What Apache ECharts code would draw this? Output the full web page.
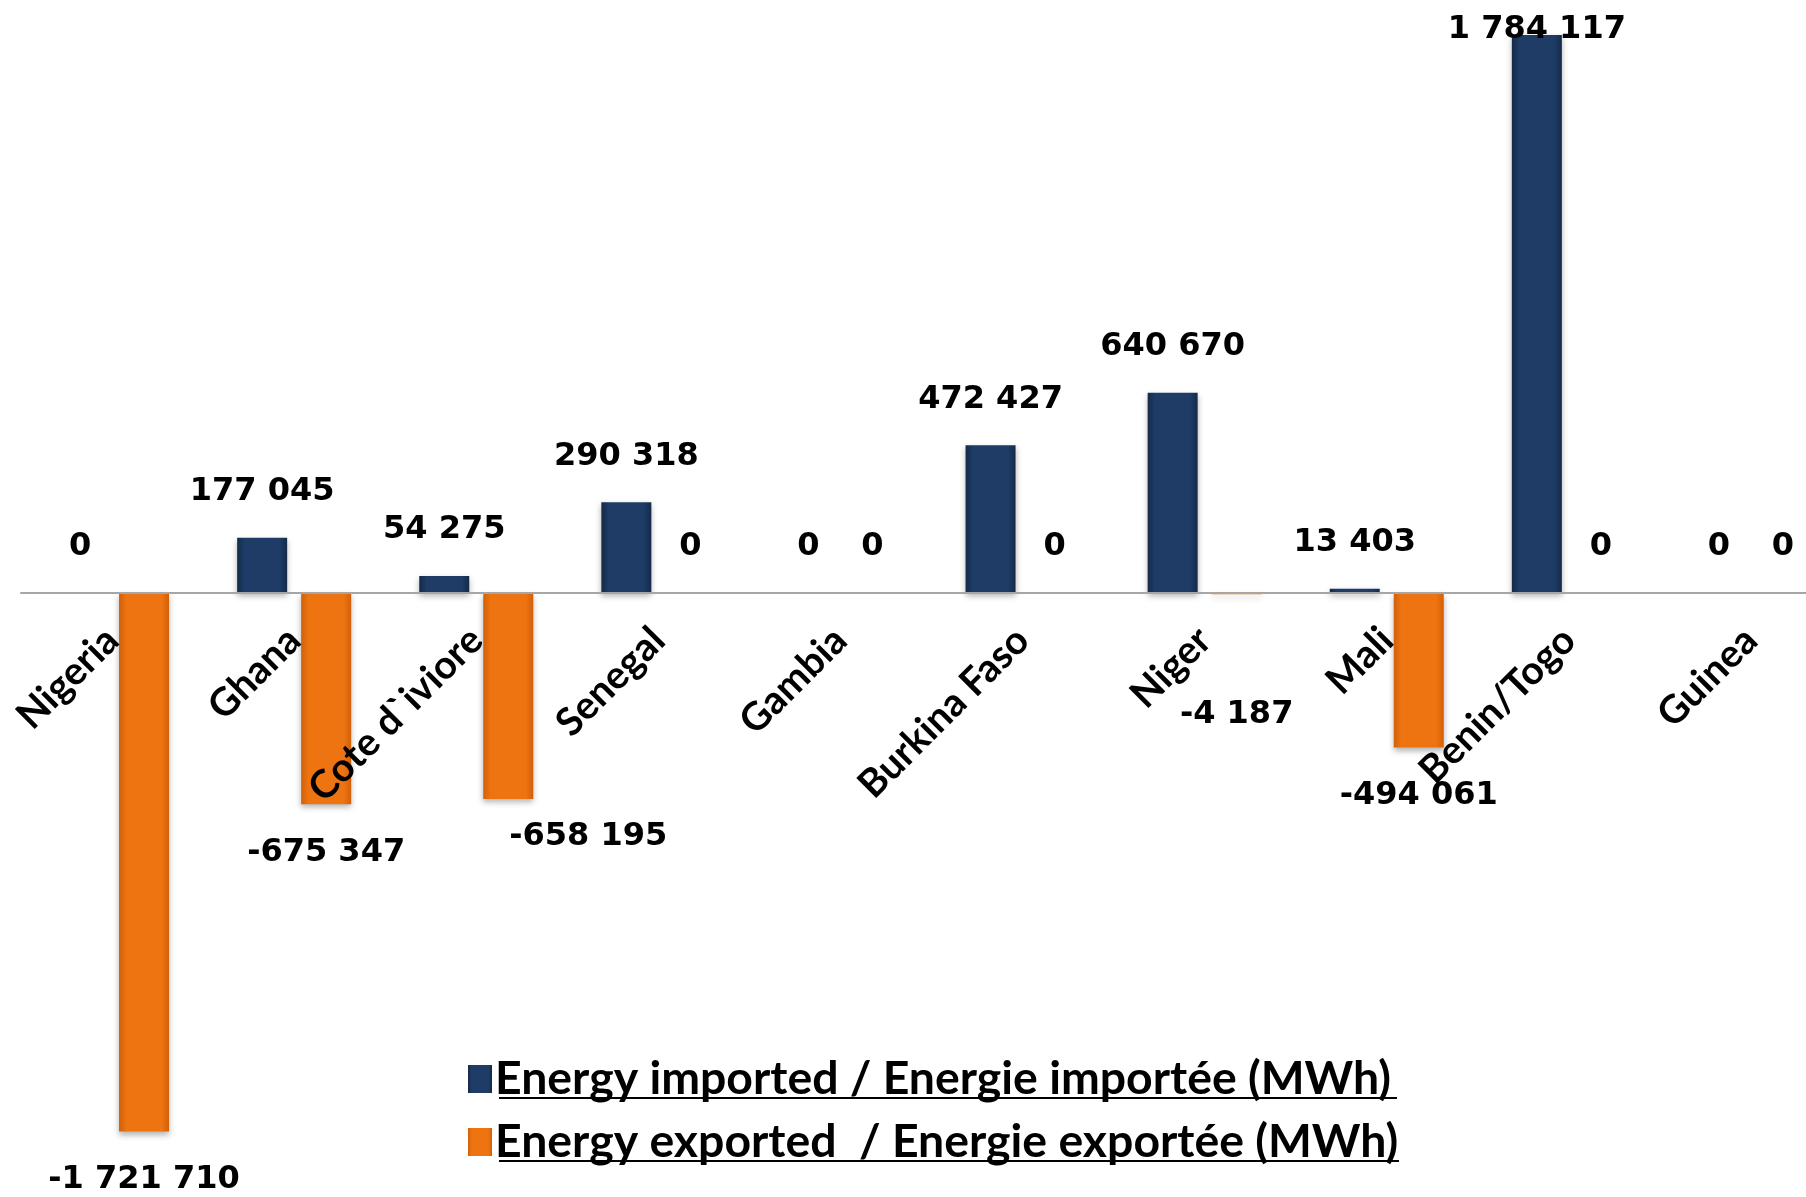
<!DOCTYPE html>
<html>
<head>
<meta charset="utf-8">
<script src="https://cdn.jsdelivr.net/npm/echarts@6/dist/echarts.min.js"></script>
<style>html,body{margin:0;padding:0;background:#fff}#chart{width:1806px;height:1197px}</style>
</head>
<body>
<div id="chart"></div>
<script>
const categories = ['Nigeria', 'Ghana', 'Cote d`iviore', 'Senegal', 'Gambia', 'Burkina Faso', 'Niger', 'Mali', 'Benin/Togo', 'Guinea'];
const imported = [0, 177045, 54275, 290318, 0, 472427, 640670, 13403, 1784117, 0];
const exported = [-1721710, -675347, -658195, 0, 0, 0, -4187, -494061, 0, 0];
const seriesNames = ['Energy imported / Energie importée (MWh)', 'Energy exported  / Energie exportée (MWh)'];

function fmt(v) {
  const s = Math.abs(v).toString().replace(/\B(?=(\d{3})+(?!\d))/g, ' ');
  return (v < 0 ? '-' : '') + s;
}

const labelBase = {
  show: true, color: '#000', fontFamily: 'DejaVu Sans', fontWeight: 'bold', fontSize: 32,
  formatter: p => fmt(p.value)
};

const importData = imported.map((v, i) => {
  const item = { value: v };
  if (categories[i] === 'Benin/Togo') item.label = { distance: -11 };
  return item;
});
const exportData = exported.map((v, i) => {
  const item = { value: v };
  if (v === 0) item.label = { position: 'top', distance: 30 };
  if (categories[i] === 'Niger') item.label = { distance: 104 };
  if (categories[i] === 'Cote d`iviore') item.label = { distance: 22, offset: [80, 0] };
  return item;
});

function grad(edge, mid) {
  return new echarts.graphic.LinearGradient(0, 0, 1, 0, [
    { offset: 0, color: edge }, { offset: 0.15, color: mid }, { offset: 0.85, color: mid }, { offset: 1, color: edge }
  ]);
}

const GRID_TOP = 0, GRID_H = 1157, ZERO_Y = 593;

const chart = echarts.init(document.getElementById('chart'));
chart.setOption({
  animation: false,
  backgroundColor: '#fff',
  grid: { left: 21, right: -36, top: GRID_TOP, height: GRID_H, outerBoundsMode: 'none', containLabel: false },
  legend: {
    orient: 'vertical', left: 463, top: 1051, itemGap: 17, selectedMode: false,
    itemWidth: 24, itemHeight: 28, icon: 'rect',
    textStyle: { fontFamily: 'Lato', fontWeight: 'bold', fontSize: 46.4, color: '#000', padding: [0, 0, 0, -2] },
    data: seriesNames
  },
  xAxis: {
    type: 'category', data: categories, z: 10,
    offset: -(GRID_TOP + GRID_H - ZERO_Y),
    axisLine: { show: true, onZero: false, lineStyle: { color: '#a6a6a6', width: 2 } },
    axisTick: { show: false },
    axisLabel: { interval: 0, rotate: 45, margin: 41, color: '#000', fontFamily: 'Lato', fontWeight: 'bold', fontSize: 39 }
  },
  yAxis: {
    type: 'value', min: -1803000, max: 1896000, show: false, splitLine: { show: false }
  },
  series: [
    {
      name: seriesNames[0], type: 'bar', barWidth: 50, barGap: '28%',
      itemStyle: { color: grad('#142a4a', '#1e3c66'), shadowBlur: 6, shadowColor: 'rgba(0,0,0,0.3)', shadowOffsetY: 3 },
      label: Object.assign({ position: 'top', distance: 30 }, labelBase),
      data: importData
    },
    {
      name: seriesNames[1], type: 'bar', barWidth: 50,
      itemStyle: { color: grad('#d25f08', '#ee7412'), shadowBlur: 6, shadowColor: 'rgba(0,0,0,0.3)', shadowOffsetY: 3 },
      label: Object.assign({ position: 'bottom', distance: 32 }, labelBase),
      data: exportData
    }
  ],
  graphic: [
    { type: 'line', shape: { x1: 499, y1: 1098, x2: 1397, y2: 1098 }, style: { stroke: '#000', lineWidth: 2 } },
    { type: 'line', shape: { x1: 499, y1: 1161, x2: 1399, y2: 1161 }, style: { stroke: '#000', lineWidth: 2 } }
  ]
});
</script>
</body>
</html>
